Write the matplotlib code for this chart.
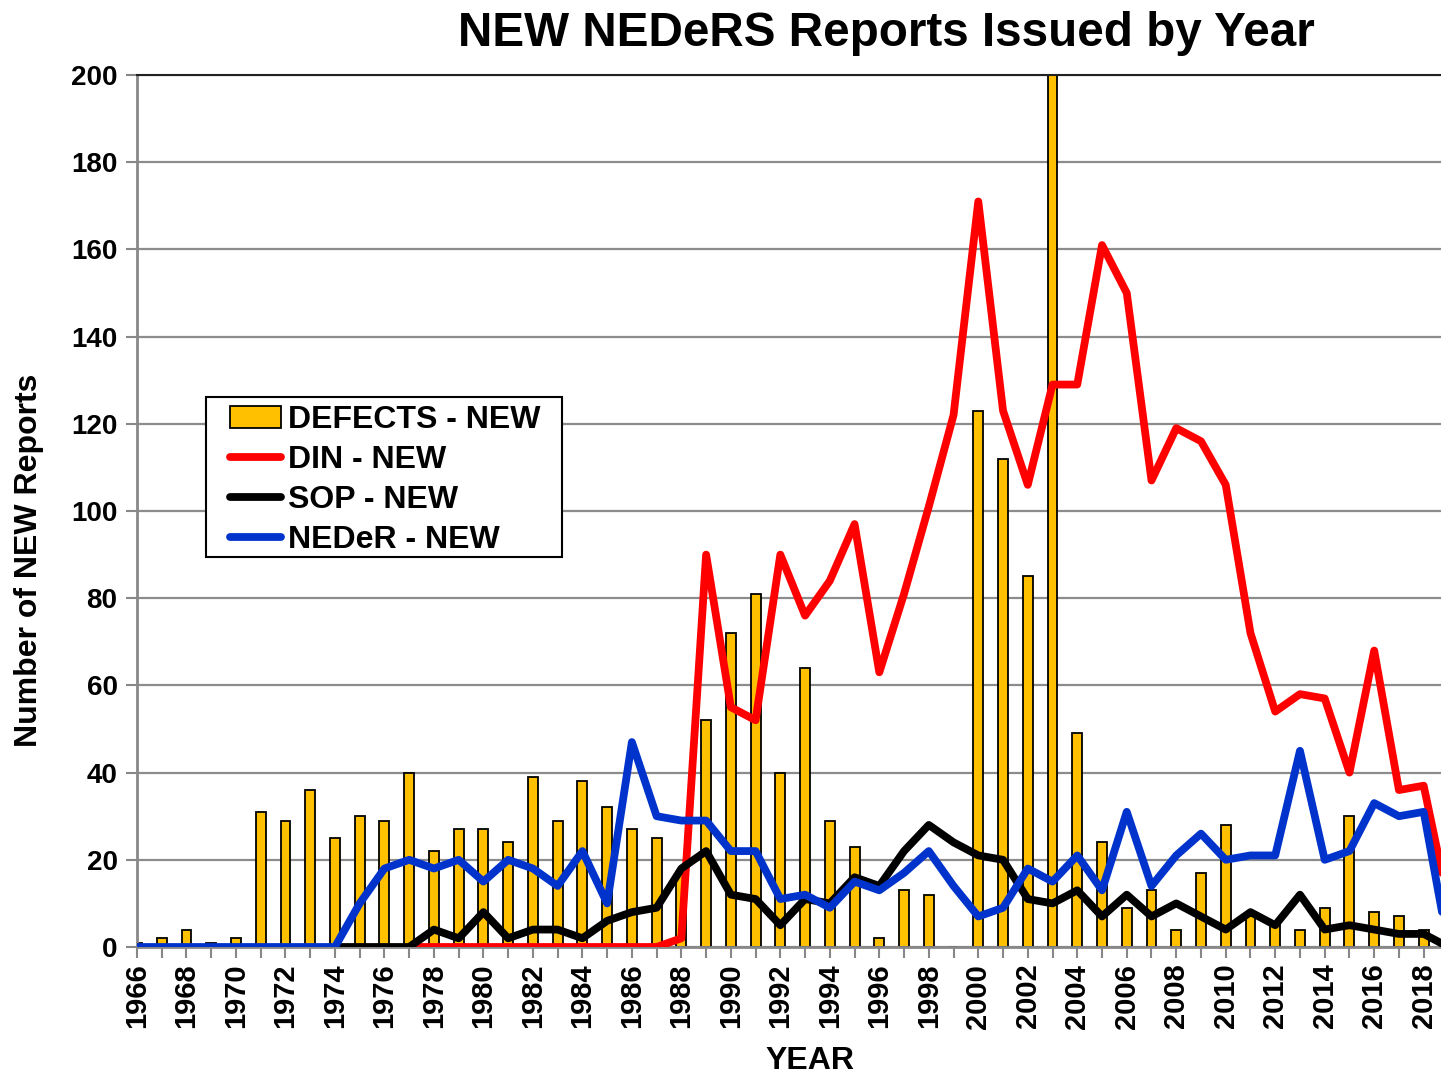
import matplotlib
matplotlib.use("Agg")
import matplotlib.pyplot as plt
from matplotlib.patches import Patch, Rectangle
from matplotlib.lines import Line2D

plt.rcParams['font.family'] = ['Liberation Sans', 'DejaVu Sans']
plt.rcParams['font.weight'] = 'bold'

years = list(range(1966, 2020))
defects_new = [1, 2, 4, 1, 2, 31, 29, 36, 25, 30, 29, 40, 22, 27, 27, 24, 39, 29,
               38, 32, 27, 25, 17, 52, 72, 81, 40, 64, 29, 23, 2, 13, 12, 0,
               123, 112, 85, 230, 49, 24, 9, 13, 4, 17, 28, 7, 5, 4, 9, 30, 8, 7, 4, 0]

din_years = list(range(1977, 2020))
din_new = [0, 0, 0, 0, 0, 0, 0, 0, 0, 0, 0, 2, 90, 55, 52, 90, 76, 84, 97, 63, 81,
           101, 122, 171, 123, 106, 129, 129, 161, 150, 107, 119, 116, 106, 72,
           54, 58, 57, 40, 68, 36, 37, 10]

sop_years = list(range(1974, 2020))
sop_new = [0, 0, 0, 0, 4, 2, 8, 2, 4, 4, 2, 6, 8, 9, 18, 22, 12, 11, 5, 11, 10,
           16, 14, 22, 28, 24, 21, 20, 11, 10, 13, 7, 12, 7, 10, 7, 4, 8, 5, 12,
           4, 5, 4, 3, 3, 0]

neder_years = list(range(1966, 2020))
neder_new = [0, 0, 0, 0, 0, 0, 0, 0, 0, 10, 18, 20, 18, 20, 15, 20, 18, 14, 22,
             10, 47, 30, 29, 29, 22, 22, 11, 12, 9, 15, 13, 17, 22, 14, 7, 9, 18,
             15, 21, 13, 31, 14, 21, 26, 20, 21, 21, 45, 20, 22, 33, 30, 31, 0]

W, H = 1441, 1074
fig = plt.figure(figsize=(W / 100, H / 100), dpi=100)
ax = fig.add_axes([137 / W, 1 - 947 / H, (W - 137) / W, (947 - 75) / H])

gold = '#FFC000'
ax.bar(years, defects_new, width=0.4, color=gold, edgecolor='black',
       linewidth=1.3, zorder=2)

lw = 5.6
kw = dict(solid_joinstyle='round', solid_capstyle='round')
ax.plot(din_years, din_new, color='#FF0000', lw=lw, zorder=3, **kw)
ax.plot(sop_years, sop_new, color='black', lw=lw, zorder=4, **kw)
ax.plot(neder_years, neder_new, color='#0033CC', lw=lw, zorder=5, **kw)

ax.set_yticks(range(0, 201, 20))
ax.set_xticks(range(1966, 2019, 2))
ax.set_xticks(range(1966, 2019), minor=True)
# ticks first, limits after, otherwise set_xticks widens the view
ax.set_xlim(1966, 2018.7)
ax.set_ylim(0, 200)
ax.tick_params(axis='x', which='both', direction='out', length=8, width=1.5,
               color='#888888', labelsize=21, labelrotation=90, pad=4)
ax.tick_params(axis='y', direction='out', length=8, width=1.5,
               color='#888888', labelsize=20, pad=6)
for lab in ax.get_xticklabels() + ax.get_yticklabels():
    lab.set_fontweight('bold')

ax.grid(axis='y', color='#8c8c8c', lw=1.6, zorder=1)
ax.set_axisbelow(True)
ax.spines['left'].set_color('#888888')
ax.spines['left'].set_linewidth(2)
ax.spines['bottom'].set_color('#888888')
ax.spines['bottom'].set_linewidth(2)
ax.spines['top'].set_color('#222222')
ax.spines['top'].set_linewidth(1.5)
ax.spines['right'].set_visible(False)

fig.text(886 / W, 1 - 33 / H, 'NEW NEDeRS Reports Issued by Year', ha='center',
         va='center', fontsize=34.3, fontweight='bold')
fig.text(29 / W, 1 - 560 / H, 'Number of NEW Reports', ha='center', va='center',
         rotation=90, fontsize=23, fontweight='bold')
fig.text(810 / W, 1 - 1046 / H, 'YEAR', ha='center', va='top', fontsize=23,
         fontweight='bold')

# legend box drawn by hand so the inner padding can match
fig.patches.append(Rectangle((206 / W, 1 - 557 / H), 356 / W, 160 / H,
                             transform=fig.transFigure, facecolor='white',
                             edgecolor='black', linewidth=1.5, zorder=9))
handles = [Patch(facecolor=gold, edgecolor='black', linewidth=1.3),
           Line2D([], [], color='#FF0000', lw=lw, solid_capstyle='round'),
           Line2D([], [], color='black', lw=lw, solid_capstyle='round'),
           Line2D([], [], color='#0033CC', lw=lw, solid_capstyle='round')]
labels = ['DEFECTS - NEW', 'DIN - NEW', 'SOP - NEW', 'NEDeR - NEW']
leg = fig.legend(handles, labels, loc='upper left',
                 bbox_to_anchor=(230 / W, 1 - 405 / H),
                 bbox_transform=fig.transFigure, frameon=False, borderpad=0,
                 labelspacing=0.31, handlelength=1.6, handletextpad=0.2,
                 borderaxespad=0, prop={'size': 23, 'weight': 'bold'})
leg.set_zorder(10)

fig.savefig('out.png', dpi=100)
